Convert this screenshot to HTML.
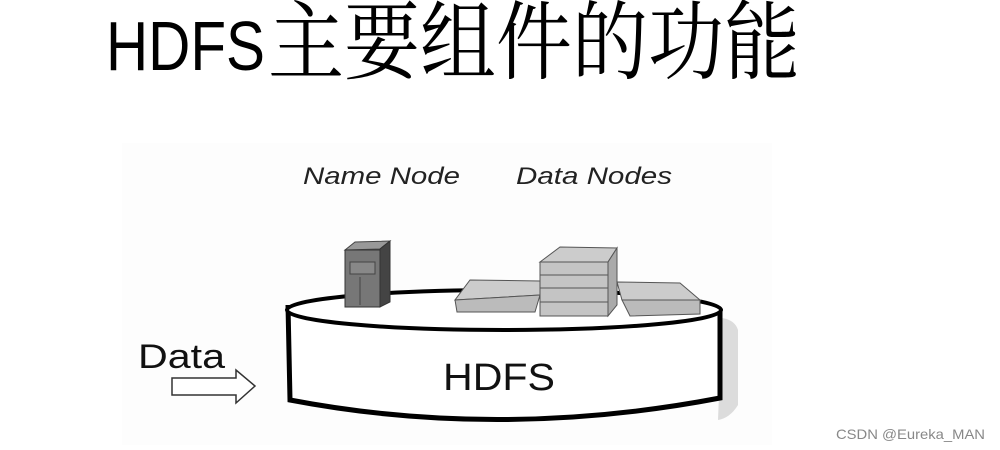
<!DOCTYPE html>
<html><head><meta charset="utf-8"><style>
html,body{margin:0;padding:0;background:#fff;width:1000px;height:450px;overflow:hidden}
</style></head><body>
<svg width="1000" height="450" viewBox="0 0 1000 450" xmlns="http://www.w3.org/2000/svg">
<rect x="122" y="143" width="650" height="302" fill="#fdfdfd"/>
<text x="106" y="70" font-family="Liberation Sans, sans-serif" font-size="70" textLength="159" lengthAdjust="spacingAndGlyphs" fill="#000">HDFS</text>
<text x="268" y="72" font-family="Liberation Serif, Noto Serif CJK SC, serif" font-size="86" textLength="532" lengthAdjust="spacingAndGlyphs" fill="#000">主要组件的功能</text>
<text x="303" y="184" font-family="Liberation Sans, sans-serif" font-style="italic" font-size="24" fill="#222" textLength="157" lengthAdjust="spacingAndGlyphs">Name Node</text>
<text x="516" y="184" font-family="Liberation Sans, sans-serif" font-style="italic" font-size="24" fill="#222" textLength="156" lengthAdjust="spacingAndGlyphs">Data Nodes</text>
<path d="M722 318 Q735 320 738 330 L738 405 Q730 418 718 420 Z" fill="#dcdcdc"/>
<path d="M288 305 L290 400 Q500 440 720 398 L720 310" fill="#fff" stroke="#000" stroke-width="5"/>
<ellipse cx="504" cy="310" rx="217" ry="20" fill="#fff" stroke="#000" stroke-width="4"/>
<text x="443" y="390" font-family="Liberation Sans, sans-serif" font-size="38" fill="#111" textLength="112" lengthAdjust="spacingAndGlyphs">HDFS</text>
<polygon points="345,250 355,242 390,241 380,249" fill="#999" stroke="#444"/>
<polygon points="380,249 390,241 390,302 380,307" fill="#444" stroke="#333"/>
<rect x="345" y="250" width="35" height="57" fill="#777" stroke="#333"/>
<rect x="350" y="262" width="25" height="12" fill="#888" stroke="#444"/>
<line x1="360" y1="277" x2="360" y2="305" stroke="#444"/>
<polygon points="470,280 540,281 540,295 455,300" fill="#ccc" stroke="#555"/>
<polygon points="455,300 540,295 535,312 457,312" fill="#bbb" stroke="#555"/>
<polygon points="540,262 560,247 617,248 608,262" fill="#ccc" stroke="#555"/>
<rect x="540" y="262" width="68" height="54" fill="#c4c4c4" stroke="#555"/>
<line x1="540" y1="275" x2="608" y2="275" stroke="#555"/>
<line x1="540" y1="288" x2="608" y2="288" stroke="#555"/>
<line x1="540" y1="302" x2="608" y2="302" stroke="#555"/>
<polygon points="608,262 617,248 617,305 608,316" fill="#aaa" stroke="#555"/>
<polygon points="617,282 680,283 700,300 622,300" fill="#ccc" stroke="#555"/>
<polygon points="622,300 700,300 700,314 630,316" fill="#bbb" stroke="#555"/>
<text x="138" y="368" font-family="Liberation Sans, sans-serif" font-size="34" fill="#111" textLength="87" lengthAdjust="spacingAndGlyphs">Data</text>
<polygon points="172,378 236,378 236,370 255,386 236,403 236,395 172,395" fill="#fff" stroke="#333" stroke-width="1.5"/>
<text x="836" y="439" font-family="Liberation Sans, sans-serif" font-size="14" fill="#888" textLength="149" lengthAdjust="spacingAndGlyphs">CSDN @Eureka_MAN</text>
</svg>
</body></html>
